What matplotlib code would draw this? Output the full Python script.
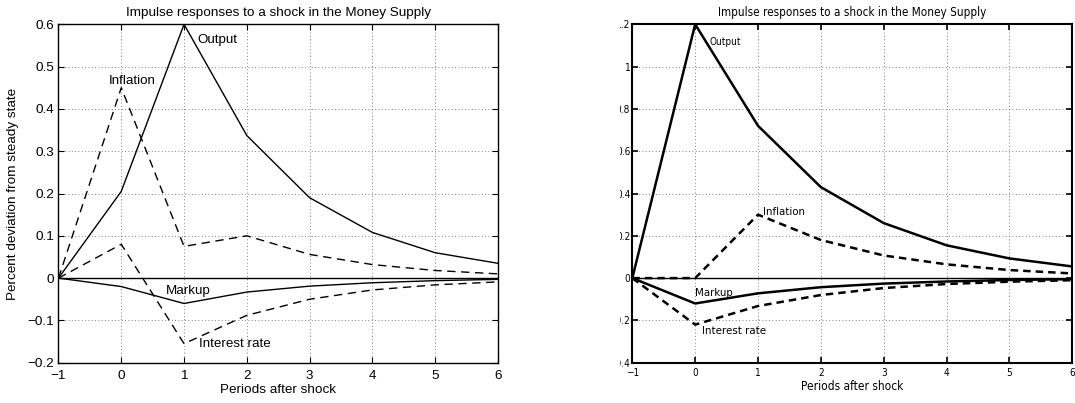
import matplotlib
matplotlib.use("Agg")
import matplotlib.pyplot as plt
from matplotlib.patches import Rectangle
from matplotlib import font_manager as fm

periods = [-1, 0, 1, 2, 3, 4, 5, 6]

# Left panel
left_output = [0, 0.205, 0.60, 0.337, 0.19, 0.108, 0.06, 0.035]
left_inflation = [0, 0.45, 0.075, 0.10, 0.056, 0.032, 0.018, 0.010]
left_interest = [0, 0.08, -0.155, -0.088, -0.050, -0.028, -0.016, -0.009]
left_markup = [0, -0.02, -0.06, -0.033, -0.019, -0.011, -0.006, -0.003]
left_yticks = [-0.2, -0.1, 0, 0.1, 0.2, 0.3, 0.4, 0.5, 0.6]

# Right panel
right_output = [0, 1.20, 0.72, 0.43, 0.26, 0.155, 0.093, 0.055]
right_inflation = [0, 0, 0.30, 0.18, 0.107, 0.065, 0.038, 0.022]
right_markup = [0, -0.12, -0.072, -0.043, -0.026, -0.016, -0.009, -0.005]
right_interest = [0, -0.22, -0.132, -0.080, -0.047, -0.028, -0.017, -0.010]
right_yticks = [-0.4, -0.2, 0, 0.2, 0.4, 0.6, 0.8, 1, 1.2]

title = "Impulse responses to a shock in the Money Supply"
xlab = "Periods after shock"
ylab = "Percent deviation from steady state"

SANS = ["Liberation Sans", "DejaVu Sans"]

# look for a condensed/narrow face for the right panel
narrow_path = None
for f in fm.fontManager.ttflist:
    n = f.name.lower()
    if "narrow" in n or (("condensed" in n or f.stretch in ("condensed", "semi-condensed")) and "dejavu sans" in n and "mono" not in n and f.weight in ("normal", 400)):
        if f.style == "normal" and f.weight in ("normal", 400):
            narrow_path = f.fname
            break
if narrow_path is not None:
    NFP = lambda size: fm.FontProperties(fname=narrow_path, size=size)
else:
    NFP = lambda size: fm.FontProperties(family="Liberation Sans", size=size * 0.9)

fig = plt.figure(figsize=(10.75, 4.03), dpi=100)

def fmt(v):
    s = ("%g" % v)
    return s.replace("-", "\u2212")

# ---------- Left ----------
ax1 = fig.add_axes([0.0544, 0.100, 0.4088, 0.8397])
ax1.plot(periods, left_output, color="black", lw=1.0)
ax1.plot(periods, left_inflation, color="black", lw=1.0, ls=(0, (6, 4)))
ax1.plot(periods, left_interest, color="black", lw=1.0, ls=(0, (6, 4)))
ax1.plot(periods, left_markup, color="black", lw=1.0)
ax1.axhline(0, color="black", lw=1.0)
ax1.set_xlim(-1, 6)
ax1.set_ylim(-0.2, 0.6)
ax1.set_xticks(periods)
ax1.set_yticks(left_yticks)
ax1.set_xticklabels([fmt(p) for p in periods], family=SANS, fontsize=9.7)
ax1.set_yticklabels([fmt(v) for v in left_yticks], family=SANS, fontsize=9.7)
ax1.grid(True, ls=(0, (1, 3)), color="#555555", lw=0.6)
ax1.tick_params(axis="x", direction="in", top=True, length=4, width=0.8, pad=5)
ax1.tick_params(axis="y", direction="in", right=True, length=4, width=0.8, pad=3)
for s in ax1.spines.values():
    s.set_linewidth(1.0)
ax1.set_title(title, family=SANS, fontsize=9.7, pad=6)
ax1.set_xlabel(xlab, family=SANS, fontsize=9.7, labelpad=2)
ax1.set_ylabel(ylab, family=SANS, fontsize=9.7, labelpad=6)
ax1.text(1.205, 0.563, "Output", family=SANS, fontsize=9.6, ha="left", va="center")
ax1.text(0.169, 0.466, "Inflation", family=SANS, fontsize=9.6, ha="center", va="center")
ax1.text(1.074, -0.031, "Markup", family=SANS, fontsize=9.6, ha="center", va="center")
ax1.text(1.238, -0.155, "Interest rate", family=SANS, fontsize=9.6, ha="left", va="center")

# ---------- Right ----------
ax2 = fig.add_axes([0.5882, 0.100, 0.4093, 0.8397])
ax2.plot(periods, right_output, color="black", lw=1.8)
ax2.plot(periods, right_inflation, color="black", lw=1.8, ls=(0, (3, 2)))
ax2.plot(periods, right_markup, color="black", lw=1.8)
ax2.plot(periods, right_interest, color="black", lw=1.8, ls=(0, (3, 2)))
ax2.axhline(0, color="black", lw=1.0)
ax2.set_xlim(-1, 6)
ax2.set_ylim(-0.4, 1.2)
ax2.set_xticks(periods)
ax2.set_yticks(right_yticks)
ax2.set_xticklabels([fmt(p) for p in periods], fontproperties=NFP(7.2))
ax2.set_yticklabels([fmt(v) for v in right_yticks], fontproperties=NFP(7.2))
ax2.grid(True, ls=(0, (1, 3)), color="#555555", lw=0.6)
ax2.tick_params(axis="x", direction="in", top=True, length=4, width=1.2, pad=3.5)
ax2.tick_params(axis="y", direction="in", right=True, length=4, width=1.2, pad=1.5)
for s in ax2.spines.values():
    s.set_linewidth(1.5)
ax2.set_title(title, fontproperties=NFP(8.4), pad=6)
ax2.set_xlabel(xlab, fontproperties=NFP(8.6), labelpad=2)
ax2.text(0.223, 1.116, "Output", fontproperties=NFP(7.2), ha="left", va="center")
ax2.text(1.08, 0.314, "Inflation", fontproperties=NFP(8.2), ha="left", va="center")
ax2.text(0.0, -0.072, "Markup", fontproperties=NFP(8.2), ha="left", va="center")
ax2.text(0.109, -0.25, "Interest rate", fontproperties=NFP(8.2), ha="left", va="center")

# the reference crops the left part of the right panel's y tick labels
fig.patches.append(Rectangle((0.50, 0.075), 0.0767, 0.92, transform=fig.transFigure,
                             facecolor="white", edgecolor="none", zorder=10))

fig.savefig("out.png", dpi=100, facecolor="white")
